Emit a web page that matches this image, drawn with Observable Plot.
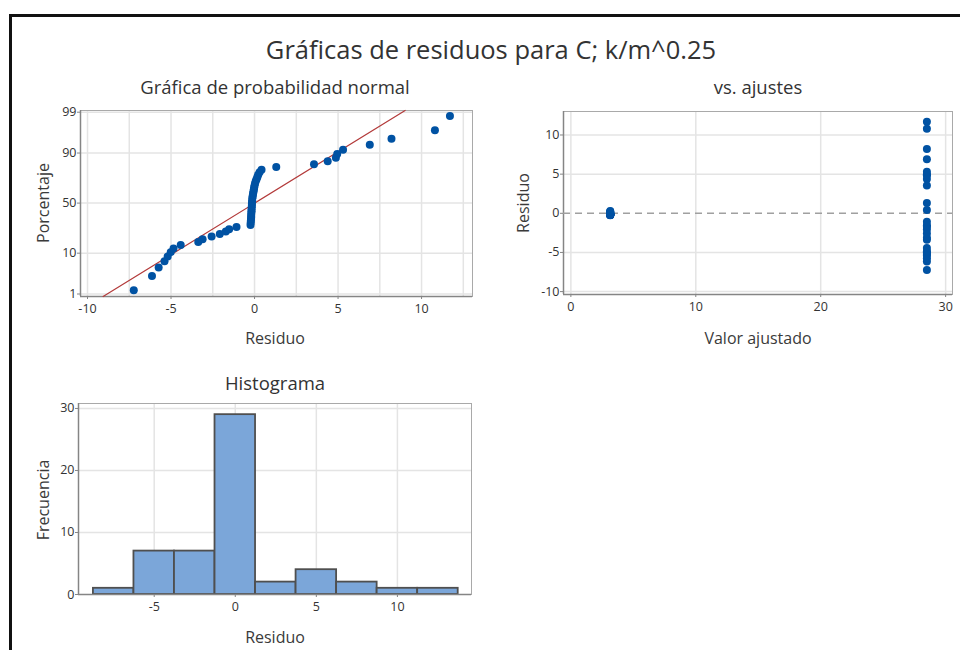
<!DOCTYPE html>
<html>
<head>
<meta charset="utf-8">
<script src="https://cdn.jsdelivr.net/npm/d3@7"></script>
<script src="https://cdn.jsdelivr.net/npm/@observablehq/plot@0.6"></script>
<style>
  html, body { margin: 0; padding: 0; background: #fff; }
  #root { position: relative; width: 960px; height: 650px; overflow: hidden; font-family: "Open Sans", "Noto Sans", sans-serif; color: #3a3a3a; }
  .frameBox { position: absolute; left: 9px; top: 14px; width: 1000px; height: 700px; border-left: 3px solid #111; border-top: 3px solid #111; }
  .panel { position: absolute; }
  .txt { position: absolute; transform: translate(-50%, -50%); white-space: nowrap; }
  .vtxt { position: absolute; transform: translate(-50%, -50%) rotate(-90deg); white-space: nowrap; }
</style>
</head>
<body>
<div id="root">
  <div class="frameBox"></div>
</div>
<script>
// ---------- Data ----------
const titulo = "Gráficas de residuos para C; k/m^0.25";
const tituloNormal = "Gráfica de probabilidad normal";
const tituloAjustes = "vs. ajustes";
const tituloHist = "Histograma";

// Residuals of the group with the low fitted value
const ajusteBajo = 3.15;
const residuosBajo = [-0.24, -0.23, -0.22, -0.21, -0.20, -0.20, -0.19, -0.18, -0.18, -0.17,
  -0.16, -0.16, -0.15, -0.14, -0.13, -0.12, -0.10, -0.08, -0.06, -0.04,
  -0.02, 0.00, 0.03, 0.07, 0.12, 0.17, 0.22, 0.30];
// Residuals of the group with the high fitted value
const ajusteAlto = 28.5;
const residuosAlto = [-7.23, -6.14, -5.74, -5.39, -5.20, -5.02, -4.85, -4.42,
  -3.37, -3.11, -2.57, -2.08, -1.72, -1.52, -1.08,
  0.42, 1.30, 3.56, 4.38, 4.87, 4.95, 5.30, 6.90, 8.20, 10.80, 11.70];

// Histogram bins (edges) and frequencies
const bordesHist = [-8.75, -6.25, -3.75, -1.25, 1.25, 3.75, 6.25, 8.75, 11.25, 13.75];
const frecuencias = [1, 7, 7, 29, 2, 4, 2, 1, 1];

// Tick labels
const ticksPorcentaje = [1, 10, 50, 90, 99];
const ticksResiduoNormal = [-10, -5, 0, 5, 10];
const ticksAjustadoX = [0, 10, 20, 30];
const ticksResiduoY = [-10, -5, 0, 5, 10];
const ticksHistX = [-5, 0, 5, 10];
const ticksHistY = [0, 10, 20, 30];

// ---------- Helpers ----------
// Inverse standard normal CDF (Acklam's approximation)
function probit(p) {
  const a = [-3.969683028665376e+01, 2.209460984245205e+02, -2.759285104469687e+02, 1.383577518672690e+02, -3.066479806614716e+01, 2.506628277459239e+00];
  const b = [-5.447609879822406e+01, 1.615858368580409e+02, -1.556989798598866e+02, 6.680131188771972e+01, -1.328068155288572e+01];
  const c = [-7.784894002430293e-03, -3.223964580411365e-01, -2.400758277161838e+00, -2.549732539343734e+00, 4.374664141464968e+00, 2.938163982698783e+00];
  const d = [7.784695709041462e-03, 3.224671290700398e-01, 2.445134137142996e+00, 3.754408661907416e+00];
  const pl = 0.02425, ph = 1 - pl;
  let q, r;
  if (p < pl) {
    q = Math.sqrt(-2 * Math.log(p));
    return (((((c[0]*q+c[1])*q+c[2])*q+c[3])*q+c[4])*q+c[5]) / ((((d[0]*q+d[1])*q+d[2])*q+d[3])*q+1);
  } else if (p <= ph) {
    q = p - 0.5; r = q * q;
    return (((((a[0]*r+a[1])*r+a[2])*r+a[3])*r+a[4])*r+a[5])*q / (((((b[0]*r+b[1])*r+b[2])*r+b[3])*r+b[4])*r+1);
  } else {
    q = Math.sqrt(-2 * Math.log(1 - p));
    return -(((((c[0]*q+c[1])*q+c[2])*q+c[3])*q+c[4])*q+c[5]) / ((((d[0]*q+d[1])*q+d[2])*q+d[3])*q+1);
  }
}

const FONT = "'Open Sans', 'Noto Sans', sans-serif";
const DOT = "#0052a3";
const GRID = "#e4e4e4";
const FRAME = "#a9a9a9";
const AXIS = "#858585";
const fmt = d => String(d); // hyphen-minus like the reference
const baseStyle = { fontFamily: FONT, fontSize: "12.5px", color: "#333", background: "transparent", overflow: "visible" };

const root = document.getElementById("root");
function place(node, left, top) {
  node.classList.add("panel");
  node.style.left = left + "px";
  node.style.top = top + "px";
  root.appendChild(node);
}
function text(str, x, y, size, cls = "txt", color = "#3a3a3a") {
  const el = document.createElement("div");
  el.className = cls;
  el.textContent = str;
  el.style.left = x + "px";
  el.style.top = y + "px";
  el.style.fontSize = size + "px";
  el.style.color = color;
  root.appendChild(el);
}

// ---------- Normal probability plot ----------
const residuos = residuosAlto.concat(residuosBajo);
const n = residuos.length;
const ordenados = residuos.slice().sort(d3.ascending);
const puntosNormal = ordenados.map((r, i) => ({ r, z: probit((i + 1 - 0.3) / (n + 0.4)) }));
const mu = d3.mean(residuos), sd = d3.deviation(residuos);
const zDom = [-2.39, 2.37];
const zTicks = ticksPorcentaje.map(p => probit(p / 100));
const linea = zDom.map(z => ({ z, r: mu + sd * z }));
const xDomNormal = [-10.42, 13.05];

const normal = Plot.plot({
  width: 480, height: 250,
  marginLeft: 80, marginRight: 8, marginTop: 10, marginBottom: 54,
  x: { domain: xDomNormal }, y: { domain: zDom },
  style: baseStyle,
  marks: [
    Plot.gridX(d3.range(-10, 12.6, 2.5), { stroke: GRID, strokeOpacity: 1, strokeWidth: 1.5 }),
    Plot.gridY(zTicks, { stroke: GRID, strokeOpacity: 1, strokeWidth: 1.5 }),
    Plot.frame({ stroke: FRAME }),
    Plot.ruleX([xDomNormal[0]], { stroke: AXIS, strokeWidth: 1.5 }),
    Plot.ruleY([zDom[0]], { stroke: AXIS, strokeWidth: 1.5 }),
    Plot.axisX(ticksResiduoNormal, { tickSize: 3, tickPadding: 5, label: null, stroke: AXIS, tickFormat: fmt }),
    Plot.axisY(zTicks, { tickSize: 3, tickPadding: 1, label: null, stroke: AXIS,
      tickFormat: d => ticksPorcentaje[d3.minIndex(zTicks, z => Math.abs(z - d))] }),
    Plot.line(linea, { x: "r", y: "z", stroke: "#b33a3a", strokeWidth: 1.2 }),
    Plot.dot(puntosNormal, { x: "r", y: "z", r: 4, fill: DOT, stroke: "none" })
  ]
});
place(normal, 0, 100);

// ---------- Residuals vs fits ----------
const puntosAjuste = residuosBajo.map(r => ({ f: ajusteBajo, r }))
  .concat(residuosAlto.map(r => ({ f: ajusteAlto, r })));
const xDomFit = [-0.59, 30.55], yDomFit = [-10.37, 13.0];
const ajustes = Plot.plot({
  width: 480, height: 250,
  marginLeft: 83, marginRight: 8, marginTop: 11, marginBottom: 56,
  x: { domain: xDomFit }, y: { domain: yDomFit },
  style: baseStyle,
  marks: [
    Plot.gridX(ticksAjustadoX, { stroke: GRID, strokeOpacity: 1, strokeWidth: 1.5 }),
    Plot.gridY(ticksResiduoY.filter(d => d !== 0), { stroke: GRID, strokeOpacity: 1, strokeWidth: 1.5 }),
    Plot.frame({ stroke: FRAME }),
    Plot.ruleX([xDomFit[0]], { stroke: AXIS, strokeWidth: 1.5 }),
    Plot.ruleY([yDomFit[0]], { stroke: AXIS, strokeWidth: 1.5 }),
    Plot.ruleY([0], { stroke: "#a0a0a0", strokeWidth: 1.5, strokeDasharray: "7,5" }),
    Plot.axisX(ticksAjustadoX, { tickSize: 3, tickPadding: 5, label: null, stroke: AXIS, tickFormat: fmt }),
    Plot.axisY(ticksResiduoY, { tickSize: 3, tickPadding: 1, label: null, stroke: AXIS, tickFormat: fmt }),
    Plot.dot(puntosAjuste, { x: "f", y: "r", r: 4, fill: DOT, stroke: "none" })
  ]
});
place(ajustes, 480, 100);

// ---------- Histogram ----------
const barras = frecuencias.map((c, i) => ({ x1: bordesHist[i], x2: bordesHist[i + 1], c }));
const xDomHist = [-9.67, 14.57], yDomHist = [0, 30.8];
const hist = Plot.plot({
  width: 480, height: 240,
  marginLeft: 78, marginRight: 9, marginTop: 13, marginBottom: 36,
  x: { domain: xDomHist }, y: { domain: yDomHist },
  style: baseStyle,
  marks: [
    Plot.gridX(ticksHistX, { stroke: GRID, strokeOpacity: 1, strokeWidth: 1.5 }),
    Plot.gridY(ticksHistY.filter(d => d > 0), { stroke: GRID, strokeOpacity: 1, strokeWidth: 1.5 }),
    Plot.frame({ stroke: FRAME }),
    Plot.rectY(barras, { x1: "x1", x2: "x2", y: "c", fill: "#7ba6d9", stroke: "#4f4f4f", strokeWidth: 1.8, inset: 0 }),
    Plot.ruleX([xDomHist[0]], { stroke: AXIS, strokeWidth: 1.5 }),
    Plot.ruleY([0], { stroke: AXIS, strokeWidth: 1.5 }),
    Plot.axisX(ticksHistX, { tickSize: 3, tickPadding: 5, label: null, stroke: AXIS, tickFormat: fmt }),
    Plot.axisY(ticksHistY, { tickSize: 3, tickPadding: 1, label: null, stroke: AXIS, tickFormat: fmt })
  ]
});
place(hist, 0, 390);

// ---------- Titles and axis labels ----------
text(titulo, 491, 49, 25.5, "txt", "#333");
text(tituloNormal, 275, 86, 18.5, "txt", "#333");
text(tituloAjustes, 758, 86, 18.5, "txt", "#333");
text(tituloHist, 275, 382, 18.5, "txt", "#333");
text("Residuo", 275, 338, 16);
text("Valor ajustado", 758, 338, 16);
text("Residuo", 275, 637, 16);
text("Porcentaje", 43, 203, 16, "vtxt");
text("Residuo", 523, 203, 16, "vtxt");
text("Frecuencia", 43, 500, 16, "vtxt");
</script>
</body>
</html>
